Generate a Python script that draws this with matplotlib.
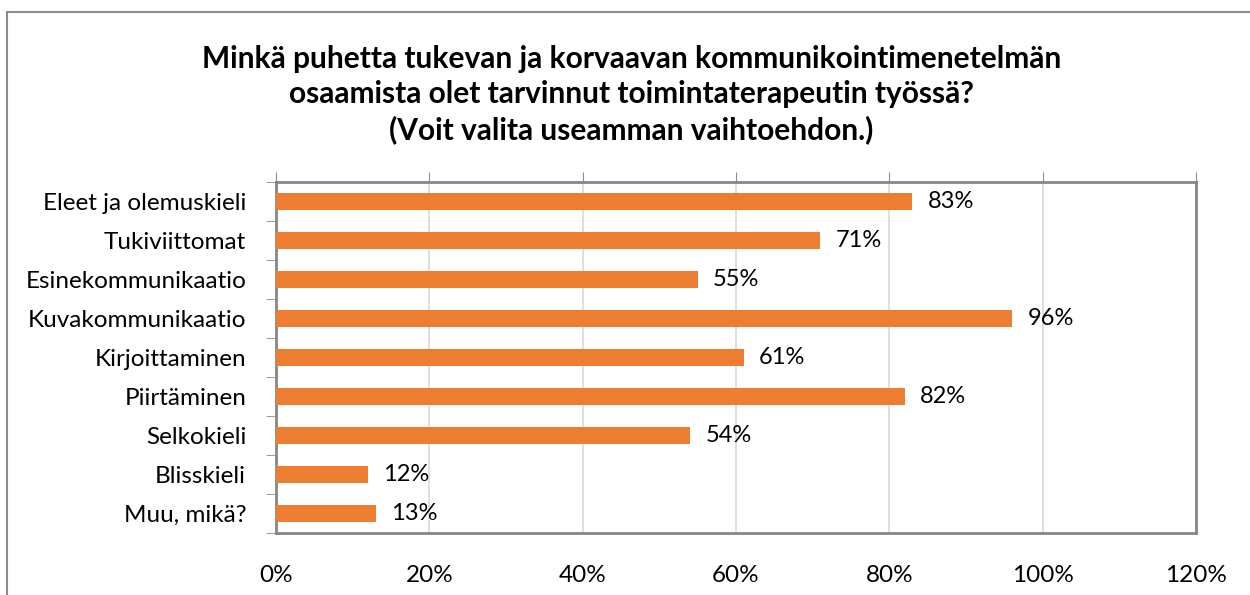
import matplotlib.pyplot as plt
from matplotlib.patches import Rectangle
from matplotlib.ticker import FuncFormatter

categories = ["Eleet ja olemuskieli", "Tukiviittomat", "Esinekommunikaatio",
              "Kuvakommunikaatio", "Kirjoittaminen", "Piirtäminen",
              "Selkokieli", "Blisskieli", "Muu, mikä?"]
values = [83, 71, 55, 96, 61, 82, 54, 12, 13]
xticks = [0, 20, 40, 60, 80, 100, 120]

title = ("Minkä puhetta tukevan ja korvaavan kommunikointimenetelmän\n"
         "osaamista olet tarvinnut toimintaterapeutin työssä?\n"
         "(Voit valita useamman vaihtoehdon.)")

plt.rcParams['font.family'] = ['Lato', 'DejaVu Sans']

fig = plt.figure(figsize=(12.5, 5.95), dpi=100)
ax = fig.add_axes([276 / 1250, 1 - 533 / 595, 920 / 1250, 351 / 595])

# outer chart border (left and top visible only)
fig.patches.append(Rectangle((7 / 1250, -0.1), 1.2, 1 - 12 / 595 + 0.1,
                             transform=fig.transFigure, fill=False,
                             edgecolor="#8c8c8c", linewidth=1.5))

ypos = list(range(len(categories)))
bars = ax.barh(ypos, values, height=0.42, color="#ED7D31", zorder=3)
ax.bar_label(bars, labels=[f"{v}%" for v in values], padding=11, fontsize=17)

ax.set_xlim(0, 120)
ax.set_ylim(len(categories) - 0.5, -0.5)
ax.set_xticks(xticks)
ax.xaxis.set_major_formatter(FuncFormatter(lambda x, p: f"{x:.0f}%"))
ax.set_yticks(ypos)
ax.set_yticklabels(categories)
ax.set_yticks([i - 0.5 for i in range(len(categories) + 1)], minor=True)

ax.tick_params(axis="x", top=True, bottom=False, labeltop=False, labelbottom=True,
               direction="out", length=7, color="#8c8c8c", labelsize=17.5, pad=16)
ax.tick_params(axis="y", which="major", left=False, labelsize=17.5, pad=18)
ax.tick_params(axis="y", which="minor", left=True, length=7, color="#8c8c8c")

ax.grid(axis="x", color="#d9d9d9", linewidth=1.2, zorder=0)
for s in ax.spines.values():
    s.set_color("#868686")
    s.set_linewidth(2)

fig.text(0.505, 1 - 95 / 595, title, ha="center", va="center",
         fontsize=21.5, fontweight="bold", linespacing=1.3)

plt.savefig("out.png", dpi=100)
